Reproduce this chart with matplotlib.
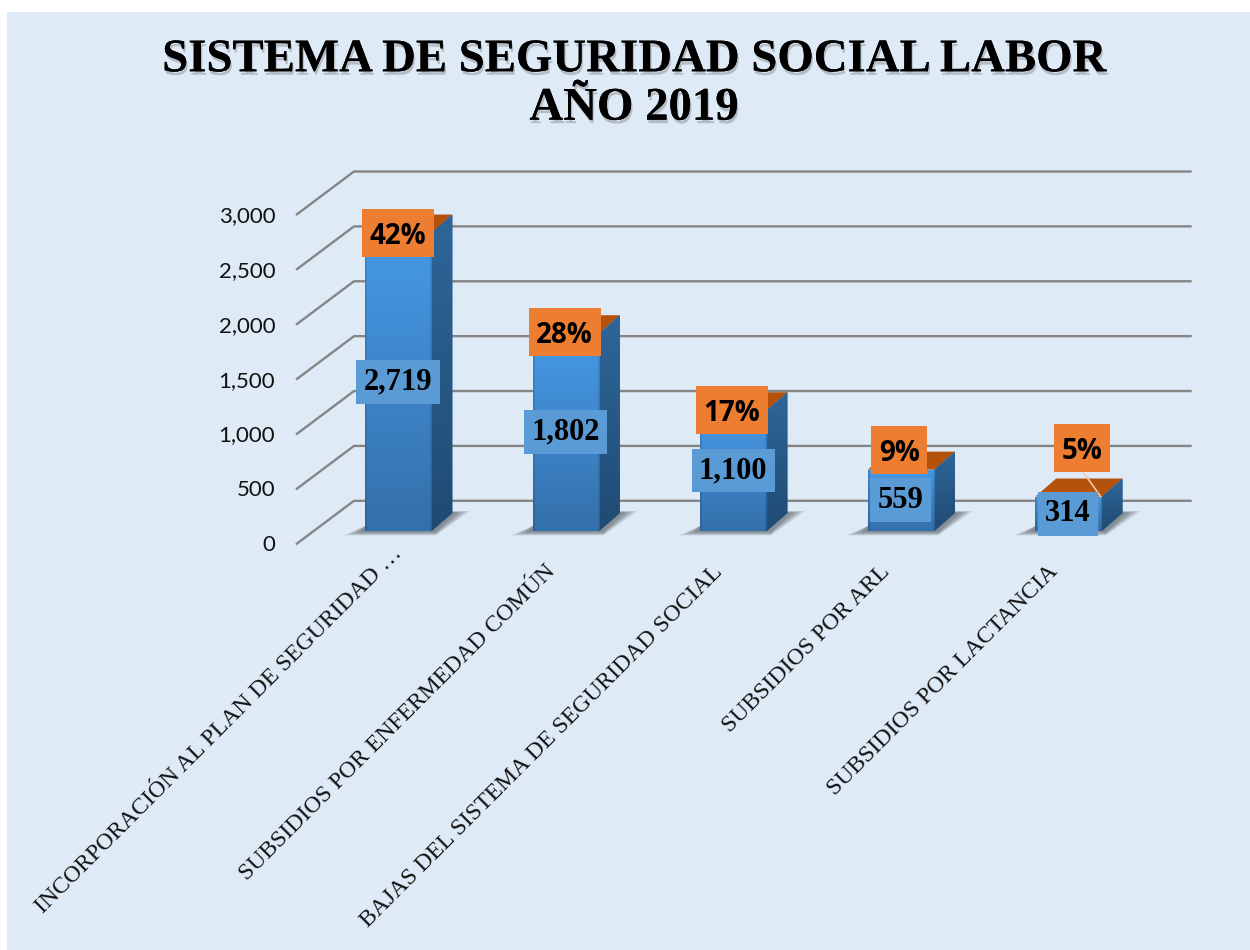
import numpy as np
import matplotlib
matplotlib.use("Agg")
import matplotlib.pyplot as plt
import matplotlib.patheffects as pe
from matplotlib.patches import Polygon, Rectangle
from matplotlib.colors import to_rgb
from matplotlib.transforms import ScaledTranslation

# ---- data ----
categories = ["INCORPORACIÓN AL PLAN DE SEGURIDAD …",
              "SUBSIDIOS POR ENFERMEDAD COMÚN",
              "BAJAS DEL SISTEMA DE SEGURIDAD SOCIAL",
              "SUBSIDIOS POR ARL",
              "SUBSIDIOS POR LACTANCIA"]
values = [2719, 1802, 1100, 559, 314]
percents = ["42%", "28%", "17%", "9%", "5%"]
y_ticks = [0, 500, 1000, 1500, 2000, 2500, 3000]
title = "SISTEMA DE SEGURIDAD SOCIAL LABOR\nAÑO 2019"

# ---- layout (pixels in the 1250x950 canvas) ----
W, H = 1250, 950
L, R, T, B = 296.0, 1133.7, 215.0, 544.3
BG = "#DEEAF6"
px_x = 5.0 / (R - L)          # categories per pixel
px_y = 3000.0 / (B - T)       # value units per pixel

fig = plt.figure(figsize=(W / 100, H / 100), dpi=100, facecolor="white")
fig.patches.append(Rectangle((7 / W, 0), 1 - 7 / W, 1 - 12 / H, transform=fig.transFigure,
                             facecolor=BG, edgecolor="none", zorder=-10))
ax = fig.add_axes([L / W, 1 - B / H, (R - L) / W, (B - T) / H])
ax.patch.set_visible(False)
for s in ax.spines.values():
    s.set_visible(False)

# ---- walls ----
wall_dx, wall_dy = 58 * px_x, 43.5 * px_y
grid_kw = dict(color="#858585", lw=1.7, clip_on=False, zorder=1, solid_capstyle="butt")
for v in y_ticks:
    ax.plot([-0.5, -0.5 + wall_dx, 4.5 + wall_dx], [v, v + wall_dy, v + wall_dy], **grid_kw)

# ---- bars ----
x = np.arange(len(values))
bar_x = x + 18.75 * px_x
bar_w = 66.4 * px_x
base = 13.3 * px_y
dep_x, dep_y = 20.6 * px_x, 18 * px_y


def gradient(extent, top, bottom, edge=False):
    n = 64
    t = np.linspace(0, 1, n)[:, None, None]
    a, b = np.array(to_rgb(top)), np.array(to_rgb(bottom))
    img = (a * (1 - t) + b * t) * np.ones((n, 40, 3))
    if edge:
        img[:, 0:1, :] *= 0.86
        img[:, -1:, :] *= 0.86
    return ax.imshow(img, extent=extent, aspect="auto", origin="upper",
                     zorder=3, interpolation="bilinear")


bars = ax.bar(bar_x, values, width=bar_w, bottom=base, color="#3F88CF", zorder=3, clip_on=False)
for xc, v, rect in zip(bar_x, values, bars):
    x0, x1 = xc - bar_w / 2, xc + bar_w / 2
    y0, y1 = base, base + v
    # soft shadow on the floor: stacked translucent shapes
    for k in np.linspace(1.0, 0.25, 7):
        shadow = [(x0 - 22 * k * px_x, y0 - 4.5 * k * px_y),
                  (x1 + 4 * px_x, y0 - 4.5 * k * px_y),
                  (x1 + (20.6 + 18 * k) * px_x, y0 + (18 + 2 * k) * px_y),
                  (x1 + 10 * px_x, y0 + (18 + 2 * k) * px_y),
                  (x0, y0 + 5 * px_y)]
        ax.add_patch(Polygon(shadow, closed=True, facecolor="#3a3f45", edgecolor="none",
                             alpha=0.10, zorder=2, clip_on=False))
    # top face
    ax.add_patch(Polygon([(x0, y1), (x1, y1), (x1 + dep_x, y1 + dep_y), (x0 + dep_x, y1 + dep_y)],
                         closed=True, facecolor="#B4520C", edgecolor="none", zorder=3, clip_on=False))
    # side face
    side = Polygon([(x1, y0), (x1 + dep_x, y0 + dep_y), (x1 + dep_x, y1 + dep_y), (x1, y1)],
                   closed=True, facecolor="#2A5F92", edgecolor="none", zorder=3, clip_on=False)
    ax.add_patch(side)
    im = gradient([x1, x1 + dep_x, y0, y1 + dep_y], "#2E6699", "#1F4B73")
    im.set_clip_box(None)
    im.set_clip_path(side)
    # front face
    im = gradient([x0, x1, y0, y1], "#469AE7", "#3470AB", edge=True)
    im.set_clip_path(rect)

# ---- axes ----
ax.set_xlim(-0.5, 4.5)
ax.set_ylim(0, 3000)
ax.set_yticks(y_ticks)
ax.set_yticklabels([f"{v:,}" for v in y_ticks], fontfamily="Lato", fontsize=16, color="#111111")
ax.tick_params(axis="y", length=0, pad=15)
up = ScaledTranslation(0, 1.0 / 100, fig.dpi_scale_trans)
for lab in ax.get_yticklabels():
    lab.set_transform(lab.get_transform() + up)
ax.set_xticks(x)
ax.set_xticklabels(categories, rotation=45, ha="right", va="top", rotation_mode="anchor",
                   fontfamily="Liberation Serif", fontsize=17.1, color="#111111")
ax.tick_params(axis="x", length=0, pad=12)
cat_shift = [(12, 18), (-3, 0), (-3, 0), (-3, 0), (-3, 0)]
for lab, (sx, sy) in zip(ax.get_xticklabels(), cat_shift):
    lab.set_transform(lab.get_transform() + ScaledTranslation(sx / 100, sy / 100, fig.dpi_scale_trans))

# ---- value labels ----
for xc, v in zip(bar_x, values):
    ax.text(xc - 0.5 * px_x, base + v / 2, f"{v:,}", ha="center", va="center",
            fontfamily="Liberation Serif", fontweight="bold", fontsize=22, color="black", zorder=6,
            bbox=dict(boxstyle="square,pad=0.24", facecolor="#5B9BD5", edgecolor="none"))

# ---- percent labels ----
pct_shift_x = [-0.5, -1.5, -1.5, -2, 13.5]
pct_shift_y = [0, 1.5, 0, 19.5, 48.5]
pct_box_w = [72, 72, 72, 56, 56]
pct_box_h = 48
pct_xy = []
for xc, v, p, sx, sy, bw in zip(bar_x, values, percents, pct_shift_x, pct_shift_y, pct_box_w):
    cx, cy = xc + sx * px_x, base + v + sy * px_y
    pct_xy.append((cx, cy))
    ax.add_patch(Rectangle((cx - bw / 2 * px_x, cy - pct_box_h / 2 * px_y), bw * px_x, pct_box_h * px_y,
                           facecolor="#ED7D31", edgecolor="none", zorder=6.5, clip_on=False))
    ax.text(cx, cy - 3.5 * px_y, p, ha="center", va="center",
            fontfamily="Open Sans", fontweight="bold", fontsize=20, color="black", zorder=7)
# leader line of the last label
ax.plot([pct_xy[-1][0] + 1 * px_x, bar_x[-1] + 32 * px_x],
        [pct_xy[-1][1] - 24 * px_y, base + values[-1] + 0 * px_y],
        color="#F3C9A8", lw=1.2, zorder=5, clip_on=False)

# ---- title ----
fig.text(634 / W, 1 - 84.5 / H, title, ha="center", va="center", ma="center",
         fontfamily="Liberation Serif", fontweight="bold", fontsize=33.7, color="black",
         linespacing=1.2,
         path_effects=[pe.withSimplePatchShadow(offset=(1, -2.5), shadow_rgbFace="#555555", alpha=0.3),
                       pe.Normal()])

fig.savefig("out.png", dpi=100, facecolor="white")
